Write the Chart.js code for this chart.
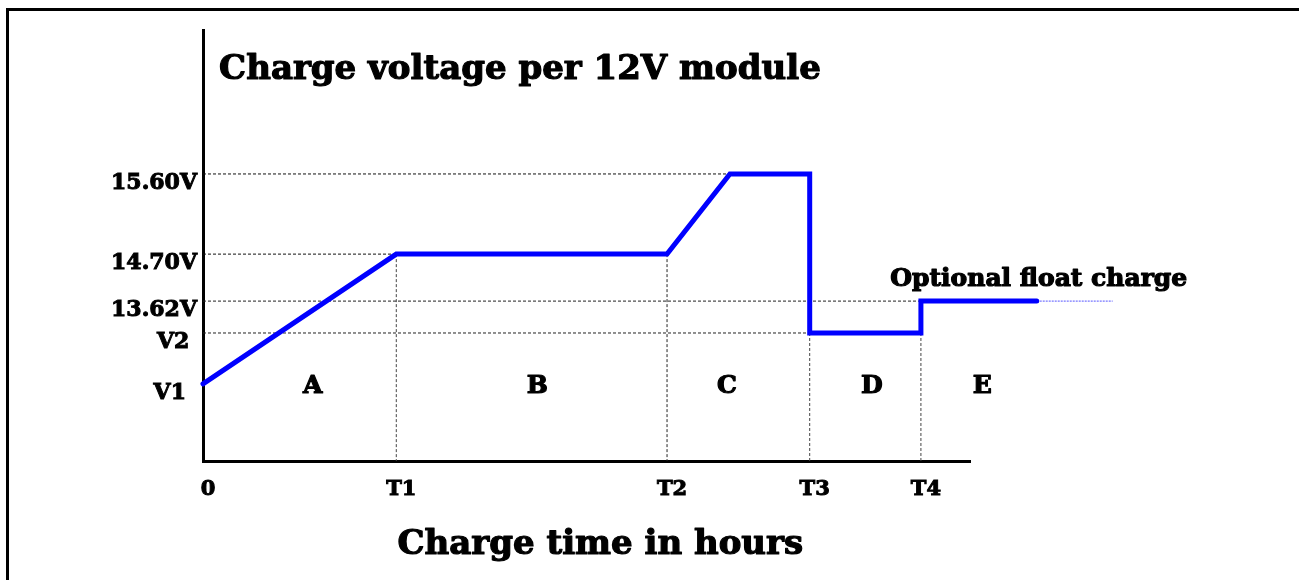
<!DOCTYPE html>
<html>
<head>
<meta charset="utf-8">
<script src="https://cdn.jsdelivr.net/npm/chart.js@4.4.1/dist/chart.umd.min.js"></script>
<style>
  html, body { margin: 0; padding: 0; background: #fff; }
  #wrap { position: relative; width: 1299px; height: 580px; }
  #frame { position: absolute; left: 6px; top: 8px; right: 0; bottom: 0; border-top: 3px solid #000; border-left: 3px solid #000; }
  canvas { position: absolute; left: 0; top: 0; }
</style>
</head>
<body>
<div id="wrap">
  <div id="frame"></div>
  <canvas id="chargeChart" width="1299" height="580"></canvas>
</div>
<script>
// time axis, schematic hours (not to scale)
const timeLabels = ['0', 'T1', 'T2', 'T3', 'T4'];
const timeTicks = [0, 2.52, 6.05, 7.91, 9.36];

// voltage levels, schematic positions on the axis
const levelLabels = ['V1', 'V2', '13.62V', '14.70V', '15.60V'];
const levelValues = [1.79, 2.97, 3.71, 4.80, 6.66];

// the charge profile
const profileTime = [0, 2.52, 6.05, 6.87, 7.91, 7.91, 9.36, 9.36, 10.87];
const profileVolt = [1.79, 4.80, 4.80, 6.66, 6.66, 2.97, 2.97, 3.71, 3.71];

// optional float charge continues (dotted)
const floatTime = [10.87, 11.86];
const floatVolt = [3.71, 3.71];

// charge stages
const stageLabels = ['A', 'B', 'C', 'D', 'E'];
const stageTimes = [1.43, 4.36, 6.83, 8.72, 10.16];
const stageLevel = 1.72;

const SERIF = '"DejaVu Serif", serif';

const toPoints = (xs, ys) => xs.map((v, i) => ({ x: v, y: ys[i] }));

// thin dashed guide from the axes
const guide = (pts, color) => ({
  data: pts,
  borderColor: color,
  borderWidth: 1,
  borderDash: [3, 2],
  pointRadius: 0,
  fill: false,
  clip: false,
});

const datasets = [
  {
    data: toPoints(profileTime, profileVolt),
    borderColor: '#0000ff',
    borderWidth: 5,
    borderJoinStyle: 'miter',
    borderCapStyle: 'round',
    pointRadius: 0,
    fill: false,
    clip: false,
  },
  {
    data: toPoints(floatTime, floatVolt),
    borderColor: '#5555ff',
    borderWidth: 1,
    borderDash: [2, 1],
    pointRadius: 0,
    fill: false,
    clip: false,
  },
  // horizontal guides
  guide([{ x: 0, y: levelValues[4] }, { x: 6.87, y: levelValues[4] }], '#111'),
  guide([{ x: 0, y: levelValues[3] }, { x: timeTicks[1], y: levelValues[3] }], '#111'),
  guide([{ x: 0, y: levelValues[2] }, { x: timeTicks[4], y: levelValues[2] }], '#222'),
  guide([{ x: 0, y: levelValues[1] }, { x: timeTicks[3], y: levelValues[1] }], '#222'),
  // vertical guides
  guide([{ x: timeTicks[1], y: levelValues[3] }, { x: timeTicks[1], y: 0 }], '#444'),
  guide([{ x: timeTicks[2], y: levelValues[3] }, { x: timeTicks[2], y: 0 }], '#222'),
  guide([{ x: timeTicks[3], y: levelValues[1] }, { x: timeTicks[3], y: 0 }], '#444'),
  guide([{ x: timeTicks[4], y: levelValues[1] }, { x: timeTicks[4], y: 0 }], '#444'),
];

// V1 / V2 sit a little left of the other labels
const levelTickText = levelLabels.map(l => (l === 'V1' ? l + '\u2002' : l === 'V2' ? l + ' ' : l));

// heavy text: fill plus a thin stroke
function heavyText(ctx, str, px, py) {
  ctx.strokeText(str, px, py);
  ctx.fillText(str, px, py);
}

const notesPlugin = {
  id: 'notes',
  afterDatasetsDraw(chart) {
    const { ctx, scales: { x, y } } = chart;
    ctx.save();
    ctx.fillStyle = '#000';
    ctx.strokeStyle = '#000';
    ctx.lineWidth = 1.2;
    ctx.lineJoin = 'round';
    ctx.textBaseline = 'middle';

    ctx.font = 'bold 25px ' + SERIF;
    ctx.textAlign = 'center';
    stageLabels.forEach((s, i) => {
      heavyText(ctx, s, x.getPixelForValue(stageTimes[i]), y.getPixelForValue(stageLevel));
    });

    ctx.textAlign = 'left';
    ctx.font = 'bold 34px ' + SERIF;
    heavyText(ctx, 'Charge voltage per 12V module', x.getPixelForValue(0.21), y.getPixelForValue(9.07));

    ctx.font = 'bold 25px ' + SERIF;
    heavyText(ctx, 'Optional float charge', x.getPixelForValue(8.96), y.getPixelForValue(4.22));

    ctx.textAlign = 'center';
    ctx.font = 'bold 34px ' + SERIF;
    heavyText(ctx, 'Charge time in hours', x.getPixelForValue(5.18), y.getPixelForValue(-1.95));
    ctx.restore();
  }
};

new Chart(document.getElementById('chargeChart').getContext('2d'), {
  type: 'line',
  data: { datasets },
  options: {
    responsive: false,
    animation: false,
    layout: { padding: { top: 30, right: 329, left: 0, bottom: 0 } },
    plugins: {
      legend: { display: false },
      tooltip: { enabled: false },
    },
    scales: {
      x: {
        type: 'linear',
        min: 0,
        max: 10,
        afterBuildTicks: s => { s.ticks = timeTicks.map(v => ({ value: v })); },
        afterFit: s => { s.height = 119; },
        grid: { display: false, drawTicks: false },
        border: { display: true, color: '#000', width: 3 },
        ticks: {
          autoSkip: false,
          maxRotation: 0,
          padding: 16,
          labelOffset: 5,
          color: '#000',
          textStrokeColor: '#000',
          textStrokeWidth: 1,
          font: { family: SERIF, weight: 'bold', size: 21 },
          callback: (v, i) => timeLabels[i],
        },
      },
      y: {
        type: 'linear',
        min: 0,
        max: 10,
        afterBuildTicks: s => { s.ticks = levelValues.map(v => ({ value: v })); },
        afterFit: s => { s.width = 203; },
        grid: { display: false, drawTicks: false },
        border: { display: true, color: '#000', width: 3 },
        ticks: {
          autoSkip: false,
          padding: 6,
          labelOffset: 9,
          color: '#000',
          textStrokeColor: '#000',
          textStrokeWidth: 1,
          font: { family: SERIF, weight: 'bold', size: 22 },
          callback: (v, i) => levelTickText[i],
        },
      },
    },
  },
  plugins: [notesPlugin],
});
</script>
</body>
</html>
